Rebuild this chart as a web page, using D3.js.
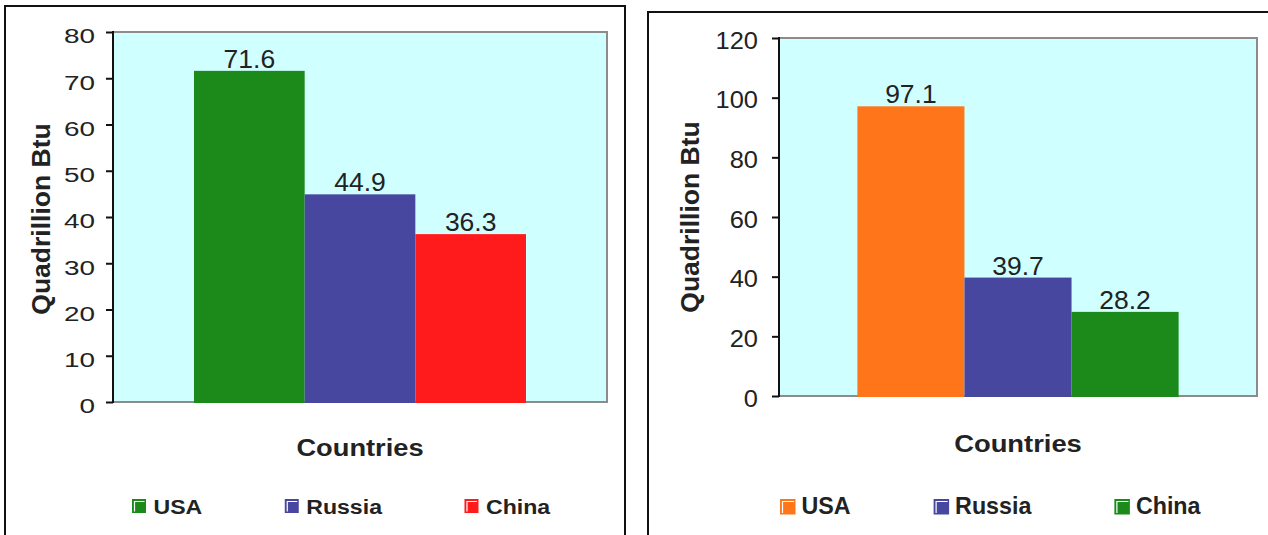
<!DOCTYPE html>
<html>
<head>
<meta charset="utf-8">
<script src="https://cdn.jsdelivr.net/npm/d3@7"></script>
<style>
  html, body { margin: 0; padding: 0; background: #fff; }
  svg { display: block; }
  text { font-family: "Liberation Sans", Arial, sans-serif; fill: #222; }
</style>
</head>
<body>
<svg id="chart" width="1268" height="535"></svg>
<script>
// Energy figures, quadrillion Btu, by country
const countries = ["USA", "Russia", "China"];
const productionValues = [71.6, 44.9, 36.3];
const consumptionValues = [97.1, 39.7, 28.2];
const productionTicks = [0, 10, 20, 30, 40, 50, 60, 70, 80];
const consumptionTicks = [0, 20, 40, 60, 80, 100, 120];
const yAxisLabel = "Quadrillion Btu";
const xAxisLabel = "Countries";

// palette per panel (same order as countries)
const productionColors = ["#1b8a1b", "#4747a0", "#ff1b1b"];
const consumptionColors = ["#ff7519", "#4747a0", "#1b8a1b"];

const svg = d3.select("#chart");

const panels = [
  {
    values: productionValues, ticks: productionTicks, colors: productionColors, yMax: 80,
    frame: { x: 5, y: 6, w: 620, h: 620 },
    plot: { x0: 113, x1: 607, y0: 32, y1: 402 },
    tick: { size: 20.5, sx: 1.36, gap: 11, off: 3.5 },
    value: { size: 25, sx: 1.06 },
    legend: { x: 132, top: 499, box: 14, textGap: 7.5, itemGap: 82.5, base: 513.5, size: 21, sx: 1.1 },
    xTitle: { y: 456, size: 23.3, sx: 1.17 },
    yTitle: { x: 50, y: 219, size: 26.5 }
  },
  {
    values: consumptionValues, ticks: consumptionTicks, colors: consumptionColors, yMax: 120,
    frame: { x: 648, y: 12, w: 700, h: 620 },
    plot: { x0: 779, x1: 1257, y0: 38, y1: 396 },
    tick: { size: 24, sx: 1.06, gap: 14, off: 1.5 },
    value: { size: 25, sx: 1.06 },
    legend: { x: 780, top: 499, box: 15.5, textGap: 6, itemGap: 83, base: 514, size: 23.5, sx: 0.99 },
    xTitle: { y: 451.7, size: 24, sx: 1.14 },
    yTitle: { x: 699, y: 217, size: 26.5 }
  }
];

panels.forEach(drawPanel);

function drawPanel(p) {
  const g = svg.append("g");
  const { x0, x1, y0, y1 } = p.plot;

  // outer frame
  g.append("rect")
    .attr("x", p.frame.x).attr("y", p.frame.y)
    .attr("width", p.frame.w).attr("height", p.frame.h)
    .attr("fill", "#fff").attr("stroke", "#111").attr("stroke-width", 2);

  const y = d3.scaleLinear().domain([0, p.yMax]).range([y1, y0]);
  const xOuter = d3.scaleBand().domain([xAxisLabel]).range([x0, x1])
    .paddingInner(0).paddingOuter(0.244);
  const xInner = d3.scaleBand().domain(countries)
    .range([xOuter(xAxisLabel), xOuter(xAxisLabel) + xOuter.bandwidth()]);

  // plot area
  g.append("rect")
    .attr("x", x0).attr("y", y0)
    .attr("width", x1 - x0).attr("height", y1 - y0)
    .attr("fill", "#d0ffff").attr("stroke", "#8c8c8c").attr("stroke-width", 2);

  // bars
  g.selectAll(".bar").data(p.values).join("rect")
    .attr("class", "bar")
    .attr("x", (d, i) => xInner(countries[i]))
    .attr("width", xInner.bandwidth())
    .attr("y", d => y(d))
    .attr("height", d => y(0) - y(d) + 1)
    .attr("fill", (d, i) => p.colors[i]);

  // value labels
  g.selectAll(".val").data(p.values).join("text")
    .attr("class", "val")
    .attr("text-anchor", "middle")
    .attr("font-size", p.value.size)
    .attr("transform", (d, i) =>
      `translate(${xInner(countries[i]) + xInner.bandwidth() / 2},${y(d) - 3}) scale(${p.value.sx},1)`)
    .text(d => d.toFixed(1));

  // y axis
  const axis = g.append("g")
    .attr("transform", `translate(${x0},0)`)
    .call(d3.axisLeft(y).tickValues(p.ticks).tickSize(7).tickSizeOuter(0).tickFormat(d3.format("d")));
  axis.select(".domain").attr("stroke", "#111").attr("stroke-width", 2)
    .attr("d", `M0,${y1 + 1}V${y0 - 1}`);
  axis.selectAll(".tick line").attr("stroke", "#111").attr("stroke-width", 2);
  axis.selectAll(".tick text")
    .attr("x", null).attr("dy", null)
    .attr("fill", "#222")
    .attr("font-family", null)
    .attr("font-size", p.tick.size)
    .attr("text-anchor", "end")
    .attr("transform", `translate(${-7 - p.tick.gap},${p.tick.off + p.tick.size * 0.358}) scale(${p.tick.sx},1)`);

  // axis titles
  g.append("text")
    .attr("text-anchor", "middle")
    .attr("font-weight", "bold")
    .attr("font-size", p.xTitle.size)
    .attr("transform", `translate(${(x0 + x1) / 2},${p.xTitle.y}) scale(${p.xTitle.sx},1)`)
    .text(xAxisLabel);

  g.append("text")
    .attr("text-anchor", "middle")
    .attr("font-weight", "bold")
    .attr("font-size", p.yTitle.size)
    .attr("transform", `translate(${p.yTitle.x},${p.yTitle.y}) rotate(-90)`)
    .text(yAxisLabel);

  // legend
  const L = p.legend;
  let cx = L.x;
  countries.forEach((name, i) => {
    const item = g.append("g");
    item.append("rect")
      .attr("x", cx).attr("y", L.top)
      .attr("width", L.box).attr("height", L.box)
      .attr("fill", p.colors[i]);
    item.append("path")
      .attr("d", `M${cx + 2.5},${L.top + L.box - 1.5}V${L.top + 2.5}H${cx + L.box - 1.5}`)
      .attr("fill", "none").attr("stroke", "#fff").attr("stroke-width", 1.2);
    const tx = cx + L.box + L.textGap;
    const t = item.append("text")
      .attr("font-weight", "bold")
      .attr("font-size", L.size)
      .attr("transform", `translate(${tx},${L.base}) scale(${L.sx},1)`)
      .text(name);
    const w = t.node().getComputedTextLength() * L.sx;
    cx = tx + w + L.itemGap;
  });
}
</script>
</body>
</html>
